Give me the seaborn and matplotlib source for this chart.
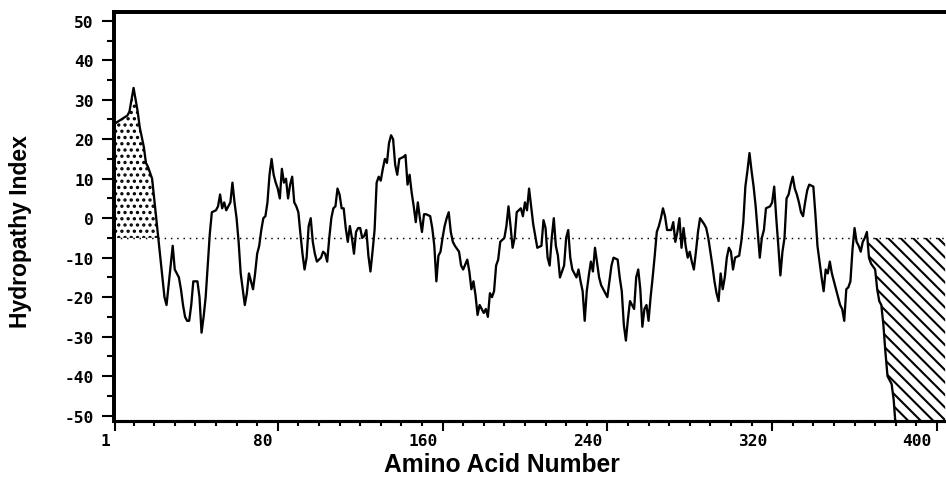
import matplotlib
matplotlib.use('Agg')
import matplotlib.pyplot as plt
import matplotlib.transforms as mtransforms
from matplotlib.ticker import MultipleLocator, FixedLocator
import pandas as pd
import seaborn as sns

# values (residue number, index)
residue = [1, 4, 7, 8, 9, 10, 11, 12, 13, 15, 16, 17, 19, 20, 21, 22, 23, 24, 25, 26,
           27, 28, 29, 30, 32, 33, 34, 35, 36, 37, 38, 39, 41, 42, 43, 44, 45, 46, 47, 48,
           50, 51, 52, 53, 54, 55, 57, 58, 59, 60, 61, 62, 63, 64, 65, 66, 67, 68, 69, 70,
           71, 72, 73, 74, 75, 76, 77, 78, 79, 80, 81, 82, 83, 84, 85, 86, 87, 88, 89, 90,
           91, 92, 93, 94, 95, 96, 97, 98, 99, 101, 102, 103, 104, 105, 106, 107, 108, 109, 110, 111,
           112, 113, 114, 115, 116, 117, 118, 119, 120, 121, 122, 123, 124, 125, 126, 127, 128, 129, 130, 131,
           132, 133, 134, 135, 136, 137, 138, 139, 141, 142, 143, 144, 145, 146, 147, 148, 149, 150, 151, 152,
           154, 155, 156, 157, 158, 159, 160, 161, 162, 163, 164, 165, 166, 168, 169, 170, 172, 173, 174, 175,
           176, 177, 178, 180, 181, 182, 183, 184, 185, 186, 187, 188, 190, 191, 192, 193, 194, 195, 196, 198,
           199, 200, 201, 202, 203, 204, 206, 208, 209, 210, 211, 212, 213, 214, 215, 216, 217, 219, 220, 221,
           222, 223, 225, 226, 227, 228, 229, 230, 231, 232, 233, 234, 236, 237, 238, 240, 241, 242, 243, 245,
           246, 247, 248, 249, 250, 251, 253, 254, 255, 256, 257, 258, 259, 260, 261, 262, 263, 264, 265, 266,
           267, 268, 269, 271, 272, 273, 274, 275, 276, 277, 278, 279, 280, 281, 282, 283, 284, 285, 287, 288,
           289, 290, 291, 292, 293, 294, 295, 296, 297, 298, 299, 300, 301, 302, 304, 305, 306, 307, 308, 309,
           310, 311, 312, 313, 314, 315, 316, 317, 319, 320, 321, 322, 323, 324, 325, 326, 327, 328, 329, 330,
           331, 332, 333, 334, 335, 336, 337, 338, 340, 341, 342, 343, 344, 345, 346, 347, 348, 349, 350, 351,
           352, 353, 354, 355, 356, 357, 358, 359, 360, 361, 362, 363, 364, 365, 366, 367, 368, 370, 371, 372,
           373, 374, 375, 376, 377, 378, 379, 380, 390, 404]
hydropathy = [24, 25, 26, 27, 30, 33, 30, 27, 23, 18, 14, 13, 10, 5, 0, -5, -10, -15, -20, -22,
              -17, -12, -7, -13, -15, -18, -22, -25, -26, -26, -22, -16, -16, -20, -29, -25, -20, -12, -4, 1.5,
              2, 3, 6, 2.5, 4, 2, 4, 9, 4, 0, -6, -14, -18, -22, -19, -14, -16, -18, -14, -9,
              -7, -3, 0, 0.5, 4, 11, 15, 11, 9, 7.5, 5, 12.5, 9, 10, 5, 8.5, 10.5, 4, 3, 1.5,
              -4, -9, -13, -10, -2, 0, -6, -9, -11, -10, -8.5, -9, -11, -5, 0, 2.5, 3, 7.5, 6, 2.5,
              2.5, -2.5, -6, -2, -5, -9, -3.5, -2.5, -2.5, -5, -4.5, -3, -9.5, -13.5, -8.5, -3, 9, 10.5, 9.5, 12.5,
              15, 14, 19, 21, 20, 13.5, 11, 15, 15.5, 16, 8.5, 11, 6.5, 3, -1, 4, 0, -3.5, 1, 1,
              0.5, -2.5, -7, -16, -9.5, -8.5, -5, -2, 0, 1.5, -3.5, -6, -7, -8.5, -12, -13, -10.5, -13.5, -18, -16,
              -19.5, -24.5, -22, -24, -23, -25, -19, -20, -18.5, -12, -10.5, -6, -5, -2, 3, -2, -7.5, -5, 1.5, 2.5,
              0.5, 4, 2, 7.5, 3, -1.5, -7.5, -7, -0.5, -2.5, -10, -12, -5, 0, -7, -9.5, -15, -12, -5, -3,
              -10, -13, -15, -13, -16, -18.5, -26, -18.5, -14.5, -11, -13.5, -7.5, -15, -17, -18, -20, -16, -12, -10, -10.5,
              -15, -18.5, -27, -31, -25.5, -21, -23, -15, -13, -18, -27.5, -23, -22, -26, -20, -15, -9.5, -3.5, -2, 0,
              2.5, 0.5, -3, -3, -1, -6, -3.5, 0, -7.5, -2.5, -7, -10, -8.5, -11, -13, -8.5, -3.5, 0, -1.5, -2.5,
              -5, -8.5, -12, -16, -19, -21, -14, -18, -15, -10, -7.5, -8.5, -13, -10, -9.5, -6, -1, 8, 12, 16.5,
              12, 8, 3, -3.5, -10, -5, -3, 2.5, 3, 4, 8, 0, -7, -14.5, -8.5, -5, 5, 6, 8.5, 10.5,
              7.5, 6, 4, 1.5, 0.5, 4, 7, 8.5, 8, 1, -7, -11, -15, -18.5, -13, -14, -11, -14, -16, -18,
              -20, -22, -23, -26, -18, -17.5, -16, -8, -2.5, -6, -7, -8.5, -6, -5, -3.5, -10, -11.5, -13, -18, -21,
              -22, -27, -34, -40, -41, -42, -46, -53, -56, -58]
x_ticks = [1, 80, 160, 240, 320, 400]
y_ticks = [-50, -40, -30, -20, -10, 0, 10, 20, 30, 40, 50]
cutoff = -5
stipple_end = 25
hatch_start = 366

df = pd.DataFrame({'Residue': residue, 'Hydropathy': hydropathy})

sns.set_style('ticks')
plt.rcParams['hatch.linewidth'] = 1.0
plt.rcParams['font.family'] = ['Liberation Sans', 'DejaVu Sans']
for key in ['text.color', 'axes.labelcolor', 'xtick.color', 'ytick.color', 'axes.edgecolor']:
    plt.rcParams[key] = 'black'

DPI = 150
fig = plt.figure(figsize=(946 / DPI, 492 / DPI), dpi=DPI)
ax = fig.add_axes([114 / 946, 1 - 421.7 / 492, 832 / 946, 409 / 492])

x = df['Residue'].to_numpy()
y = df['Hydropathy'].to_numpy()

# stippled region at the N-terminus, hatched region at the C-terminus
ax.fill_between(x, y, cutoff, where=(x <= stipple_end) & (y >= cutoff), interpolate=True,
                facecolor='none', edgecolor='black', hatch='....', linewidth=0)
ax.fill_between(x, y, cutoff, where=(x >= hatch_start) & (y <= cutoff), interpolate=True,
                facecolor='none', edgecolor='black', hatch='\\\\\\\\', linewidth=0)

ax.axhline(cutoff, color='black', lw=0.7, ls=(0, (1, 3.3)), zorder=1)
sns.lineplot(data=df, x='Residue', y='Hydropathy', ax=ax, color='black', lw=1.1, zorder=3)

ax.set_xlim(0.5, 404.4)
ax.set_ylim(-51.3, 52.3)

ax.xaxis.set_major_locator(FixedLocator(x_ticks))
ax.xaxis.set_minor_locator(MultipleLocator(10))
ax.yaxis.set_major_locator(FixedLocator(y_ticks))
ax.yaxis.set_minor_locator(MultipleLocator(5))

ax.tick_params(axis='both', which='both', direction='out', width=1.0, color='black',
               labelcolor='black')
ax.tick_params(axis='x', which='major', length=5, pad=1)
ax.tick_params(axis='x', which='minor', length=2.5)
ax.tick_params(axis='y', which='major', length=5.8, pad=4)
ax.tick_params(axis='y', which='minor', length=3.2)

tick_font = dict(family='DejaVu Sans Mono', weight='bold', size=7.8)
ax.set_xticklabels([str(t) for t in x_ticks], **tick_font)
ax.set_yticklabels([str(t) for t in y_ticks], **tick_font)
shift = mtransforms.ScaledTranslation(-5 / DPI, 0, fig.dpi_scale_trans)
for lbl in ax.get_xticklabels():
    lbl.set_ha('right')
    lbl.set_transform(lbl.get_transform() + shift)

for side in ['top', 'left']:
    ax.spines[side].set_linewidth(1.9)
ax.spines['bottom'].set_linewidth(1.5)
ax.spines['right'].set_visible(False)
for s in ax.spines.values():
    s.set_color('black')

ax.set_xlabel('Amino Acid Number', fontsize=11.8, fontweight='bold', va='center', color='black')
ax.set_ylabel('Hydropathy Index', fontsize=11, fontweight='bold', va='center', color='black')
ax.xaxis.set_label_coords(0.466, -0.106)
ax.yaxis.set_label_coords(-0.112, 0.464)

fig.savefig('out.png', dpi=DPI)
